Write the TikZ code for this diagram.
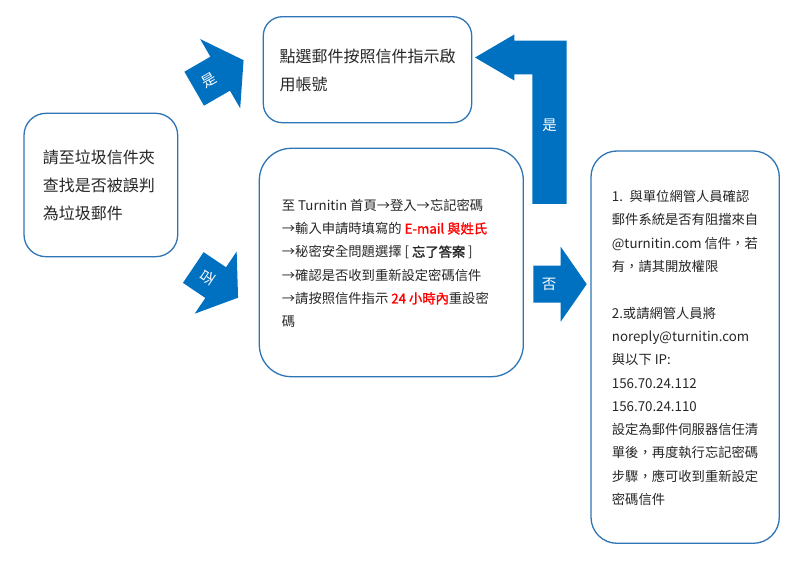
\documentclass[tikz,border=0pt]{standalone}
\usepackage{fontspec}
\setmainfont{Noto Sans CJK TC}[Script=CJK, Language=Chinese Traditional]
\newfontfamily\semibold{Noto Sans CJK TC}[Script=CJK, Language=Chinese Traditional, FakeBold=1.4]
\definecolor{arrowblue}{HTML}{0070C0}
\definecolor{boxblue}{HTML}{2E75B6}
\definecolor{txt}{HTML}{262626}
\definecolor{hilite}{HTML}{FF0000}
\begin{document}
\begin{tikzpicture}[x=1pt,y=-1pt,
  box/.style={draw=boxblue, line width=1.3pt, fill=white},
  fatarrow/.style={fill=arrowblue, draw=none},
  arrowlabel/.style={text=white, font=\fontsize{14.5}{14.5}\selectfont, inner sep=0},
  bigtext/.style={anchor=west, align=left, inner sep=0, text=txt},
  smalltext/.style={anchor=west, align=left, inner sep=0, text=txt, font=\fontsize{13.3}{23.3}\selectfont}]
\useasboundingbox (0,0) rectangle (800,572);

% boxes
\draw[box, rounded corners=22pt] (24,113.3) rectangle (177.7,256.7);
\draw[box, rounded corners=19pt] (263.3,16.7) rectangle (471.7,122.7);
\draw[box, rounded corners=32pt] (259.3,148.3) rectangle (523.3,376.7);
\draw[box, rounded corners=26pt] (591,151) rectangle (779.3,543.3);

% texts
\node[bigtext, font=\fontsize{16}{28}\selectfont] (ta) at (42.7,185.4)
  {請至垃圾信件夾\\查找是否被誤判\\為垃圾郵件};
\node[bigtext, font=\fontsize{16}{27.3}\selectfont] (tb) at (279.3,70.4)
  {點選郵件按照信件指示啟\\用帳號};
\node[smalltext] (tc) at (281.7,263.4)
  {至 Turnitin 首頁→登入→忘記密碼\\
   →輸入申請時填寫的 {\color{hilite}\semibold E-mail 與姓氏}\\
   →秘密安全問題選擇 [ {\semibold 忘了答案} ]\\
   →確認是否收到重新設定密碼信件\\
   →請按照信件指示 {\color{hilite}\semibold 24 小時內}重設密\\
   碼};
\node[smalltext] (td) at (611.7,348)
  {1.\enspace 與單位網管人員確認\\
   郵件系統是否有阻擋來自\\
   @turnitin.com 信件，若\\
   有，請其開放權限\\[23.3pt]
   2.或請網管人員將\\
   noreply@turnitin.com\\
   與以下 IP:\\
   156.70.24.112\\
   156.70.24.110\\
   設定為郵件伺服器信任清\\
   單後，再度執行忘記密碼\\
   步驟，應可收到重新設定\\
   密碼信件};

% diagonal arrow up (yes)
\begin{scope}[shift={(194.2,88.7)}, rotate=30]
  \fill[fatarrow] (0,-19.6) -- (30,-19.6) -- (30,-40) -- (57,0) -- (30,40) -- (30,19.6) -- (0,19.6) -- cycle;
  \coordinate (yesA) at (17,0);
\end{scope}
\node[arrowlabel, rotate=30] (lyesA) at (yesA) {是};

% diagonal arrow down (no)
\begin{scope}[shift={(193.3,267.5)}, rotate=-34]
  \fill[fatarrow] (0,-18.5) -- (27,-18.5) -- (27,-37.5) -- (54,0) -- (27,37.5) -- (27,18.5) -- (0,18.5) -- cycle;
  \coordinate (noA) at (17,0);
\end{scope}
\node[arrowlabel, rotate=-124] (lnoA) at (noA) {否};

% bent arrow (yes) back to top box
\fill[fatarrow] (475,57.5) -- (514.3,34.5) -- (514.3,40.7) -- (566.7,40.7) -- (566.7,204)
  -- (532.3,204) -- (532.3,74.3) -- (514.3,74.3) -- (514.3,80.5) -- cycle;
\node[arrowlabel] (lyesB) at (549.5,125) {是};

% right arrow (no)
\fill[fatarrow] (533.3,265.7) -- (560.7,265.7) -- (560.7,246.7) -- (586.7,284.2)
  -- (560.7,321.7) -- (560.7,302.7) -- (533.3,302.7) -- cycle;
\node[arrowlabel] (lnoB) at (549,284.2) {否};
\end{tikzpicture}
\end{document}
